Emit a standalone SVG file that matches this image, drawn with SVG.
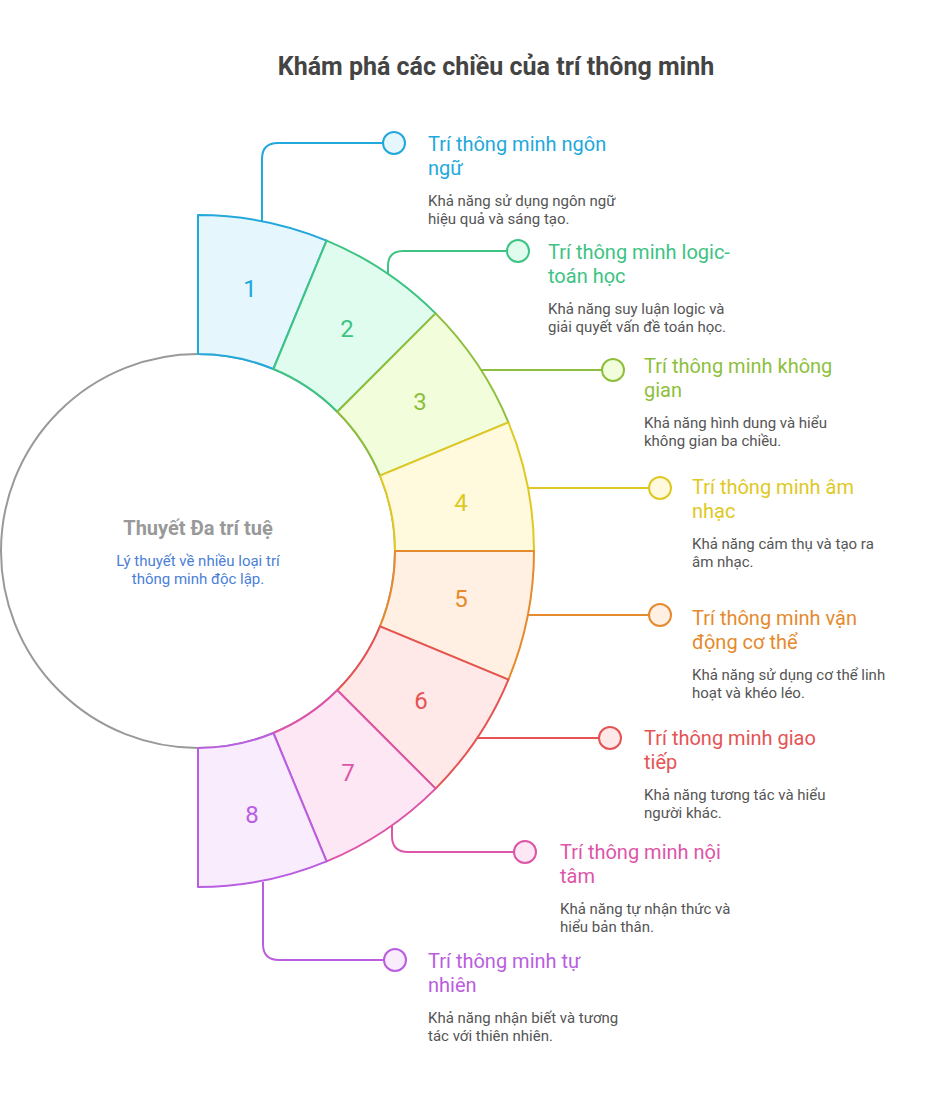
<svg xmlns="http://www.w3.org/2000/svg" width="942" height="1094" viewBox="0 0 942 1094">
<style>
text{font-family:Roboto,"Liberation Sans",sans-serif}
.title{font-size:25px;font-weight:bold;fill:#444;text-anchor:middle}
.num{font-size:24px;text-anchor:middle}
.h{font-size:20px}
.d{font-size:15px;fill:#555}
.seg{stroke-width:2;stroke-linejoin:round}
.con{fill:none;stroke-width:2}
.dot{stroke-width:2}
</style>
<rect width="942" height="1094" fill="#fff"/>
<text class="title" x="496" y="75">Khám phá các chiều của trí thông minh</text>
<g id="connectors">
<path class="con" stroke="#22a8db" d="M262,222 V159 Q262,143 278,143 H383"/>
<path class="con" stroke="#3dc383" d="M388,274 V266 Q388,251 403,251 H507"/>
<path class="con" stroke="#8dbf3c" d="M481,370 H602"/>
<path class="con" stroke="#e0c823" d="M528,488 H649"/>
<path class="con" stroke="#e58a2d" d="M528,615 H649"/>
<path class="con" stroke="#e55353" d="M477,738 H599"/>
<path class="con" stroke="#dd55a8" d="M392,825 V836 Q392,852 408,852 H514"/>
<path class="con" stroke="#b95ee0" d="M263,882 V944 Q263,960 279,960 H384"/>
</g>
<g id="center">
<circle cx="198" cy="551" r="197" fill="#fff" stroke="#999" stroke-width="2"/>
<text x="198" y="535" text-anchor="middle" font-size="20" font-weight="bold" fill="#999">Thuyết Đa trí tuệ</text>
<text x="198" y="566" text-anchor="middle" font-size="15" fill="#4a80d8">Lý thuyết về nhiều loại trí</text>
<text x="198" y="584" text-anchor="middle" font-size="15" fill="#4a80d8">thông minh độc lập.</text>
</g>
<g id="seg1">
<path class="seg" fill="#e5f6fd" stroke="#22a8db" d="M198,354 L198,215 A336,336 0 0 1 326.58,240.58 L273.39,369 A197,197 0 0 0 198,354 Z"/>
<text class="num" fill="#22a8db" x="250" y="297">1</text>
</g>
<g id="seg2">
<path class="seg" fill="#e0fcee" stroke="#3dc383" d="M273.39,369 L326.58,240.58 A336,336 0 0 1 435.59,313.41 L337.3,411.7 A197,197 0 0 0 273.39,369 Z"/>
<text class="num" fill="#3dc383" x="347" y="337">2</text>
</g>
<g id="seg3">
<path class="seg" fill="#f2fddc" stroke="#8dbf3c" d="M337.3,411.7 L435.59,313.41 A336,336 0 0 1 508.42,422.42 L380,475.61 A197,197 0 0 0 337.3,411.7 Z"/>
<text class="num" fill="#8dbf3c" x="420" y="410">3</text>
</g>
<g id="seg4">
<path class="seg" fill="#fff9dd" stroke="#e0c823" d="M380,475.61 L508.42,422.42 A336,336 0 0 1 534,551 L395,551 A197,197 0 0 0 380,475.61 Z"/>
<text class="num" fill="#e0c823" x="461" y="511">4</text>
</g>
<g id="seg5">
<path class="seg" fill="#fff0e3" stroke="#e58a2d" d="M395,551 L534,551 A336,336 0 0 1 508.42,679.58 L380,626.39 A197,197 0 0 0 395,551 Z"/>
<text class="num" fill="#e58a2d" x="461" y="607">5</text>
</g>
<g id="seg6">
<path class="seg" fill="#ffe9e8" stroke="#e55353" d="M380,626.39 L508.42,679.58 A336,336 0 0 1 435.59,788.59 L337.3,690.3 A197,197 0 0 0 380,626.39 Z"/>
<text class="num" fill="#e55353" x="421" y="709">6</text>
</g>
<g id="seg7">
<path class="seg" fill="#fde7f5" stroke="#dd55a8" d="M337.3,690.3 L435.59,788.59 A336,336 0 0 1 326.58,861.42 L273.39,733 A197,197 0 0 0 337.3,690.3 Z"/>
<text class="num" fill="#dd55a8" x="348" y="781">7</text>
</g>
<g id="seg8">
<path class="seg" fill="#f8ecfd" stroke="#b95ee0" d="M273.39,733 L326.58,861.42 A336,336 0 0 1 198,887 L198,748 A197,197 0 0 0 273.39,733 Z"/>
<text class="num" fill="#b95ee0" x="252" y="823">8</text>
</g>
<g id="item1">
<circle class="dot" cx="394" cy="143" r="11" fill="#e5f6fd" stroke="#22a8db"/>
<text class="h" fill="#22a8db" x="428" y="151">Trí thông minh ngôn</text>
<text class="h" fill="#22a8db" x="428" y="175">ngữ</text>
<text class="d" x="428" y="206">Khả năng sử dụng ngôn ngữ</text>
<text class="d" x="428" y="224">hiệu quả và sáng tạo.</text>
</g>
<g id="item2">
<circle class="dot" cx="518" cy="251" r="11" fill="#e0fcee" stroke="#3dc383"/>
<text class="h" fill="#3dc383" x="548" y="259">Trí thông minh logic-</text>
<text class="h" fill="#3dc383" x="548" y="283">toán học</text>
<text class="d" x="548" y="314">Khả năng suy luận logic và</text>
<text class="d" x="548" y="332">giải quyết vấn đề toán học.</text>
</g>
<g id="item3">
<circle class="dot" cx="613" cy="370" r="11" fill="#f2fddc" stroke="#8dbf3c"/>
<text class="h" fill="#8dbf3c" x="644" y="373">Trí thông minh không</text>
<text class="h" fill="#8dbf3c" x="644" y="397">gian</text>
<text class="d" x="644" y="428">Khả năng hình dung và hiểu</text>
<text class="d" x="644" y="446">không gian ba chiều.</text>
</g>
<g id="item4">
<circle class="dot" cx="660" cy="488" r="11" fill="#fff9dd" stroke="#e0c823"/>
<text class="h" fill="#e0c823" x="692" y="494">Trí thông minh âm</text>
<text class="h" fill="#e0c823" x="692" y="518">nhạc</text>
<text class="d" x="692" y="549">Khả năng cảm thụ và tạo ra</text>
<text class="d" x="692" y="567">âm nhạc.</text>
</g>
<g id="item5">
<circle class="dot" cx="660" cy="615" r="11" fill="#fff0e3" stroke="#e58a2d"/>
<text class="h" fill="#e58a2d" x="692" y="625">Trí thông minh vận</text>
<text class="h" fill="#e58a2d" x="692" y="649">động cơ thể</text>
<text class="d" x="692" y="680">Khả năng sử dụng cơ thể linh</text>
<text class="d" x="692" y="698">hoạt và khéo léo.</text>
</g>
<g id="item6">
<circle class="dot" cx="610" cy="738" r="11" fill="#ffe9e8" stroke="#e55353"/>
<text class="h" fill="#e55353" x="644" y="745">Trí thông minh giao</text>
<text class="h" fill="#e55353" x="644" y="769">tiếp</text>
<text class="d" x="644" y="800">Khả năng tương tác và hiểu</text>
<text class="d" x="644" y="818">người khác.</text>
</g>
<g id="item7">
<circle class="dot" cx="525" cy="852" r="11" fill="#fde7f5" stroke="#dd55a8"/>
<text class="h" fill="#dd55a8" x="560" y="859">Trí thông minh nội</text>
<text class="h" fill="#dd55a8" x="560" y="883">tâm</text>
<text class="d" x="560" y="914">Khả năng tự nhận thức và</text>
<text class="d" x="560" y="932">hiểu bản thân.</text>
</g>
<g id="item8">
<circle class="dot" cx="395" cy="960" r="11" fill="#f8ecfd" stroke="#b95ee0"/>
<text class="h" fill="#b95ee0" x="428" y="968">Trí thông minh tự</text>
<text class="h" fill="#b95ee0" x="428" y="992">nhiên</text>
<text class="d" x="428" y="1023">Khả năng nhận biết và tương</text>
<text class="d" x="428" y="1041">tác với thiên nhiên.</text>
</g>
</svg>
